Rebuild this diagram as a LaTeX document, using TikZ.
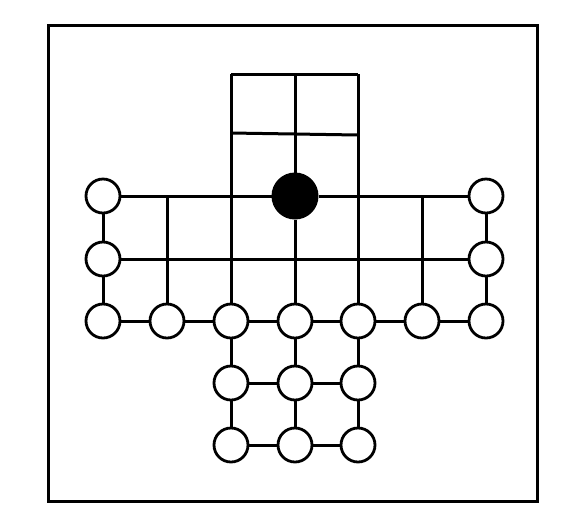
\documentclass[tikz,border=0pt]{standalone}
\begin{document}
\begin{tikzpicture}[x=1pt,y=-1pt,line width=3pt,
  spot/.style={circle,draw,fill=white,minimum size=34pt,inner sep=0pt,line width=2.8pt},
  blackspot/.style={circle,draw,fill=black,minimum size=44pt,inner sep=0pt}]
\useasboundingbox (0,0) rectangle (569,531);
\draw (48,25) rectangle (537,501);
% coordinates
\def\xa{103}\def\xb{167}\def\xc{231}\def\xd{295}\def\xe{358}\def\xf{422}\def\xg{486}
\def\ya{196}\def\yb{259}\def\yc{321}\def\yd{383}\def\ye{445}
% top grid corners
\coordinate (t1) at (\xc,74);
\coordinate (t2) at (\xd,74);
\coordinate (t3) at (\xe,74);
\coordinate (m1) at (\xc,133);
\coordinate (m3) at (\xe,135);
% free junctions on row a
\coordinate (ab) at (\xb,\ya);
\coordinate (af) at (\xf,\ya);
% nodes
\node[spot] (A1) at (\xa,\ya) {};
\node[blackspot] (A4) at (\xd,\ya) {};
\node[spot] (A7) at (\xg,\ya) {};
\node[spot] (B1) at (\xa,\yb) {};
\node[spot] (B7) at (\xg,\yb) {};
\node[spot] (C1) at (\xa,\yc) {};
\node[spot] (C2) at (\xb,\yc) {};
\node[spot] (C3) at (\xc,\yc) {};
\node[spot] (C4) at (\xd,\yc) {};
\node[spot] (C5) at (\xe,\yc) {};
\node[spot] (C6) at (\xf,\yc) {};
\node[spot] (C7) at (\xg,\yc) {};
\node[spot] (D3) at (\xc,\yd) {};
\node[spot] (D4) at (\xd,\yd) {};
\node[spot] (D5) at (\xe,\yd) {};
\node[spot] (E3) at (\xc,\ye) {};
\node[spot] (E4) at (\xd,\ye) {};
\node[spot] (E5) at (\xe,\ye) {};
% lines
\draw (t1) -- (t3);
\draw (m1) -- (m3);
\draw (t1) -- (C3);
\draw (t2) -- (A4);
\draw (t3) -- (C5);
\draw (A1) -- (A4);
\draw (A4) -- (A7);
\draw (A4) -- (C4);
\draw (B1) -- (B7);
\draw (ab) -- (C2);
\draw (af) -- (C6);
\draw (A1) -- (B1);
\draw (B1) -- (C1);
\draw (A7) -- (B7);
\draw (B7) -- (C7);
\draw (C1) -- (C2);
\draw (C2) -- (C3);
\draw (C3) -- (C4);
\draw (C4) -- (C5);
\draw (C5) -- (C6);
\draw (C6) -- (C7);
\draw (C3) -- (D3);
\draw (D3) -- (E3);
\draw (C4) -- (D4);
\draw (D4) -- (E4);
\draw (C5) -- (D5);
\draw (D5) -- (E5);
\draw (D3) -- (D4);
\draw (D4) -- (D5);
\draw (E3) -- (E4);
\draw (E4) -- (E5);
\end{tikzpicture}
\end{document}
